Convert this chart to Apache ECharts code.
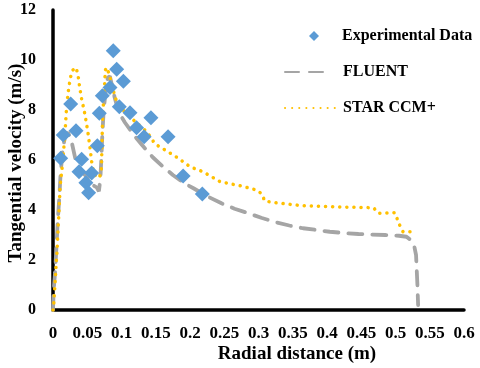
<!DOCTYPE html>
<html>
<head>
<meta charset="utf-8">
<script src="https://cdn.jsdelivr.net/npm/echarts@6/dist/echarts.min.js"></script>
<style>html,body{margin:0;padding:0;background:#fff}#c{width:480px;height:368px}</style>
</head>
<body>
<div id="c"></div>
<script>
// Experimental data
var expX = [0.0112,0.015,0.0258,0.0336,0.038,0.0418,0.048,0.052,0.0565,0.0647,0.0676,0.072,0.0832,0.088,0.093,0.0968,0.1027,0.1124,0.122,0.133,0.143,0.168,0.19,0.218];
var expY = [6.07,7.0,8.24,7.17,5.53,6.03,5.09,4.69,5.48,6.57,7.87,8.57,8.9,10.37,9.63,8.13,9.15,7.89,7.29,6.93,7.69,6.93,5.36,4.64];
// FLUENT
var fluentX = [0,0.001,0.003,0.005,0.007,0.009,0.011,0.014,0.018,0.022,0.027,0.033,0.040,0.050,0.058,0.064,0.067,0.069,0.0705,0.072,0.074,0.077,0.080,0.083,0.086,0.090,0.096,0.105,0.118,0.13,0.146,0.16,0.175,0.19,0.205,0.225,0.246,0.265,0.285,0.305,0.327,0.345,0.365,0.385,0.404,0.425,0.446,0.465,0.485,0.505,0.516,0.522,0.527,0.530,0.531,0.532,0.533];
var fluentY = [0,0.8,1.5,2.5,3.6,4.4,5.4,6.4,7.0,7.1,6.75,6.0,5.6,5.3,5.0,4.9,4.75,5.2,6.0,7.0,8.0,8.8,9.3,9.35,9.0,8.5,7.9,7.5,7.0,6.6,6.1,5.75,5.4,5.1,4.87,4.55,4.27,4.05,3.87,3.68,3.5,3.38,3.27,3.2,3.13,3.08,3.04,3.02,3.0,2.97,2.93,2.8,2.6,2.2,1.6,1.0,0.2];
// STAR CCM+
var starX = [0,0.001,0.002,0.0034,0.005,0.006,0.0073,0.0085,0.0095,0.0105,0.013,0.0156,0.018,0.020,0.023,0.026,0.029,0.0336,0.0365,0.039,0.042,0.045,0.048,0.051,0.054,0.057,0.060,0.064,0.068,0.0705,0.0715,0.072,0.0735,0.075,0.0764,0.079,0.082,0.0857,0.0905,0.098,0.1075,0.12,0.137,0.149,0.166,0.183,0.2,0.219,0.244,0.275,0.297,0.305,0.309,0.331,0.365,0.42,0.468,0.475,0.499,0.506,0.511,0.523];
var starY = [0,0.2,0.67,1.27,2.0,2.4,3.2,3.8,4.4,5.0,5.6,6.4,7.3,8.2,8.9,9.35,9.6,9.7,9.4,8.9,8.4,8.05,7.6,7.1,6.5,5.8,5.45,5.3,5.3,5.6,6.5,7.3,8.2,8.8,9.6,9.7,9.4,9.07,8.5,8.1,7.87,7.53,7.13,6.64,6.36,6.07,5.73,5.53,5.13,4.96,4.8,4.64,4.36,4.27,4.17,4.12,4.09,3.87,3.89,3.4,3.13,3.13];
var yTicks = [0,2,4,6,8,10,12];

function zip(a, b) { return a.map(function (v, i) { return [v, b[i]]; }); }

var serif = 'Liberation Serif';
var legendText = {fontFamily: serif, fontWeight: 'bold', fontSize: 16, color: '#000'};
var chart = echarts.init(document.getElementById('c'), null, {renderer: 'canvas'});
chart.setOption({
  animation: false,
  backgroundColor: '#fff',
  grid: {left: 53, right: 16, top: 10, bottom: 58, containLabel: false, outerBoundsMode: 'none'},
  xAxis: {
    type: 'value', min: 0, max: 0.6, interval: 0.05,
    name: 'Radial distance (m)', nameLocation: 'middle', nameGap: 35, nameMoveOverlap: false,
    nameTextStyle: {fontFamily: serif, fontWeight: 'bold', fontSize: 19, color: '#000', padding: [0, 0, 0, 77]},
    axisLine: {show: true, lineStyle: {color: '#000', width: 3.5}},
    axisTick: {show: false},
    splitLine: {show: false},
    axisLabel: {fontFamily: serif, fontWeight: 'bold', fontSize: 17, color: '#000', margin: 15,
      formatter: function (v) { return String(+v.toFixed(2)); }}
  },
  yAxis: {
    type: 'value', min: yTicks[0], max: yTicks[yTicks.length - 1], interval: 2,
    name: 'Tangential velocity (m/s)', nameLocation: 'middle', nameGap: 27, nameMoveOverlap: false,
    nameTextStyle: {fontFamily: serif, fontWeight: 'bold', fontSize: 19, color: '#000', padding: [0, 6, 0, 0]},
    axisLine: {show: true, lineStyle: {color: '#000', width: 3.5}},
    axisTick: {show: false},
    splitLine: {show: false},
    axisLabel: {fontFamily: serif, fontWeight: 'bold', fontSize: 16, color: '#000', margin: 17}
  },
  legend: [
    {data: ['Experimental Data'], left: 309, top: 28, padding: 0, itemWidth: 10, itemHeight: 10, icon: 'diamond',
     textStyle: Object.assign({padding: [0, 0, 0, 18]}, legendText)},
    {data: ['FLUENT'], left: 284, top: 64, padding: 0, itemWidth: 41, itemHeight: 14, itemStyle: {opacity: 0},
     textStyle: Object.assign({padding: [0, 0, 0, 12]}, legendText)},
    {data: ['STAR CCM+'], left: 284, top: 100, padding: 0, itemWidth: 52, itemHeight: 14, itemStyle: {opacity: 0},
     textStyle: Object.assign({padding: [0, 0, 0, 1]}, legendText)}
  ],
  series: [
    {name: 'FLUENT', type: 'line', data: zip(fluentX, fluentY), symbol: 'none', smooth: false, z: 2,
     lineStyle: {color: '#a5a5a5', width: 3.8, type: [14, 10], cap: 'round'}, itemStyle: {color: '#a5a5a5'}},
    {name: 'STAR CCM+', type: 'line', data: zip(starX, starY), symbol: 'none', smooth: false, z: 3,
     lineStyle: {color: '#ffc000', width: 3.5, type: [0.1, 7], cap: 'round'}, itemStyle: {color: '#ffc000'}},
    {name: 'Experimental Data', type: 'scatter', data: zip(expX, expY), symbol: 'diamond', symbolSize: 15, z: 5,
     itemStyle: {color: '#5b9bd5', opacity: 1}}
  ]
});
</script>
</body>
</html>
